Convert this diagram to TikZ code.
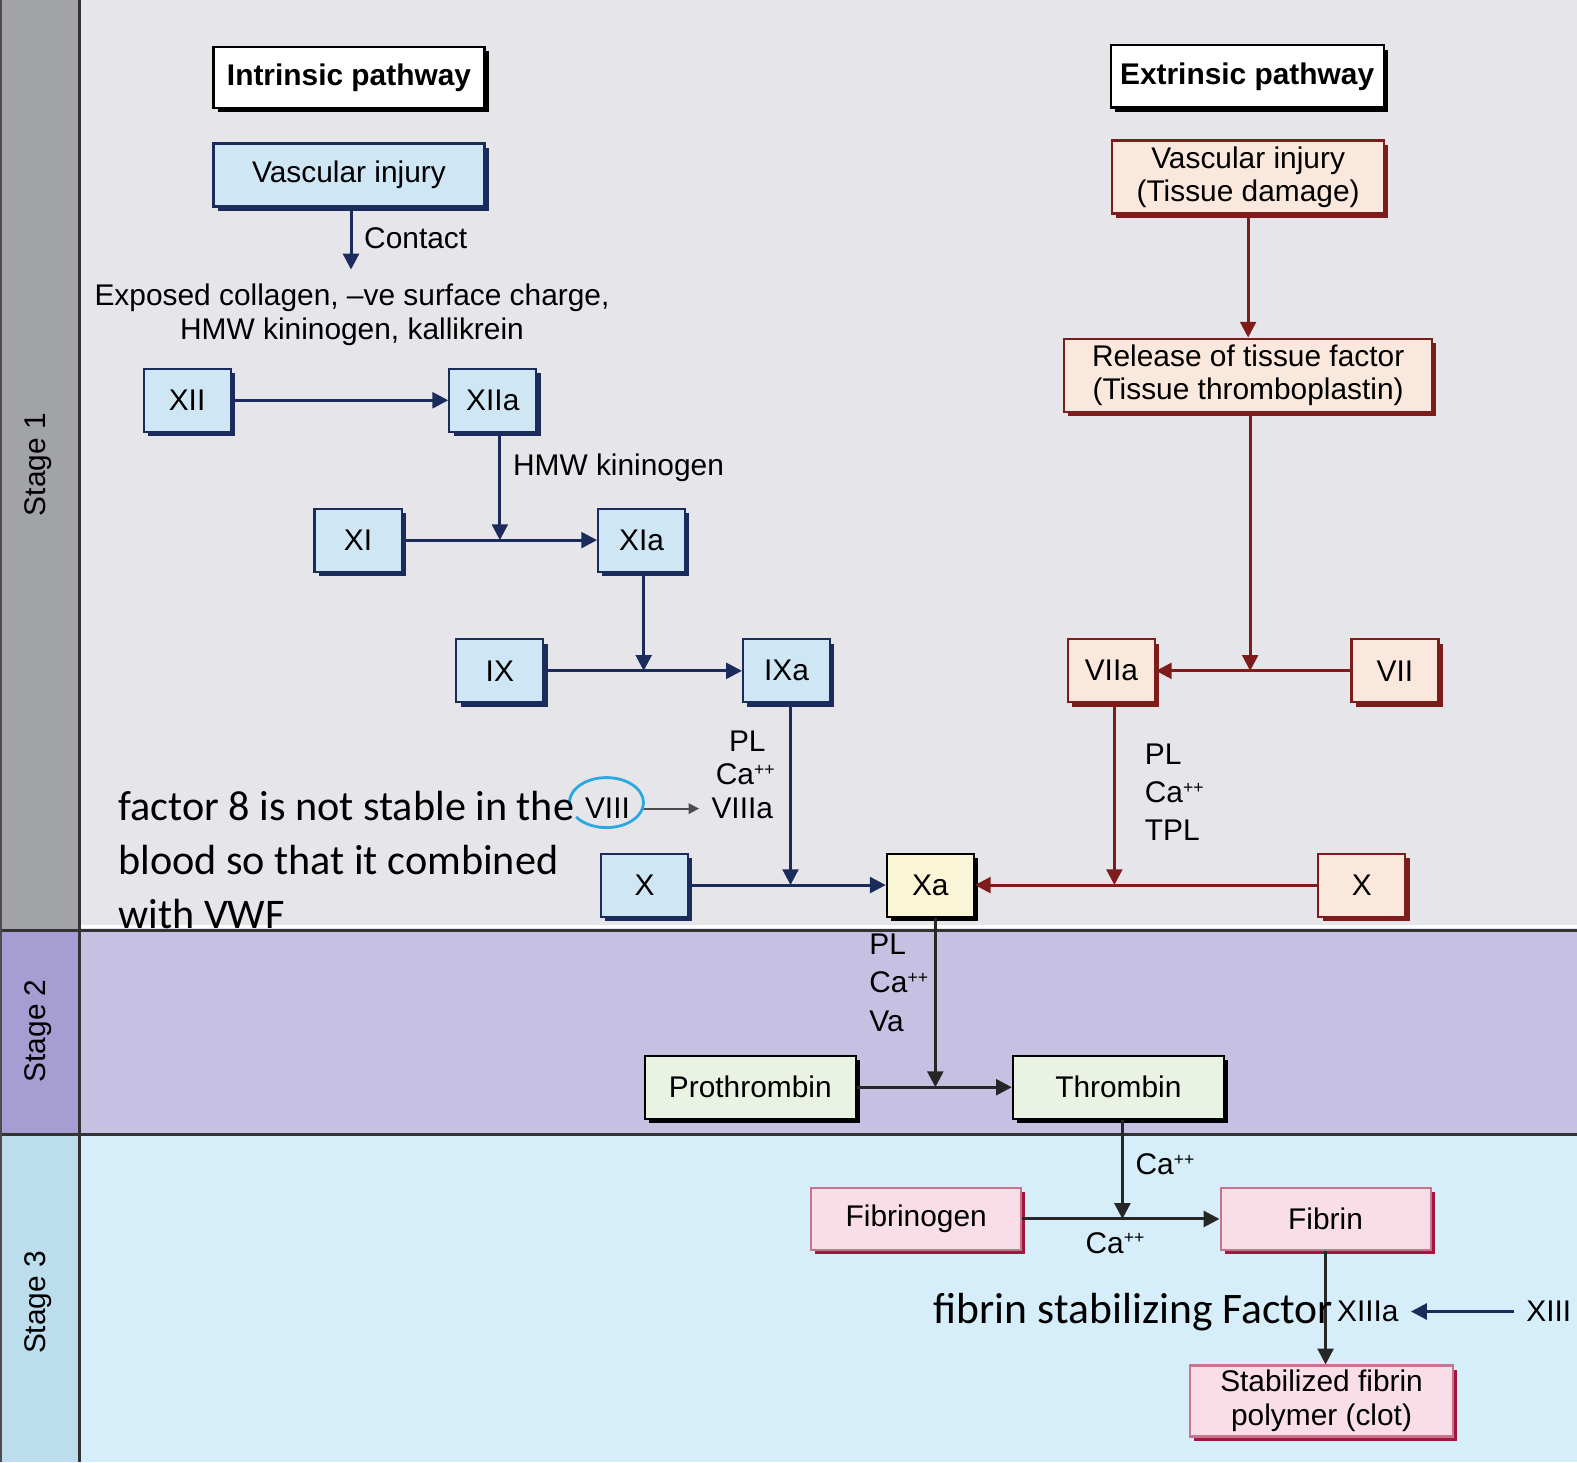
\documentclass[tikz,border=0pt]{standalone}
\usepackage{fontspec}
\setmainfont{Liberation Sans}
\newfontfamily\notefont{Carlito}
\usetikzlibrary{arrows.meta,shadows}

\definecolor{navyline}{HTML}{1B2B5B}
\definecolor{bluefill}{HTML}{CFE6F5}
\definecolor{redline}{HTML}{7E1B1B}
\definecolor{peachfill}{HTML}{FBE8DC}
\definecolor{yellowfill}{HTML}{FBF5D8}
\definecolor{greenfill}{HTML}{EAF2E4}
\definecolor{pinkfill}{HTML}{F9DDE7}
\definecolor{pinkline}{HTML}{A3173F}
\definecolor{stageone}{HTML}{E6E6EA}
\definecolor{stagetwo}{HTML}{C6C1E2}
\definecolor{stagethree}{HTML}{D6EEF9}
\definecolor{sideone}{HTML}{A1A3A7}
\definecolor{sidetwo}{HTML}{A69DD3}
\definecolor{sidethree}{HTML}{BBDDEC}
\definecolor{circleblue}{HTML}{2AA8E2}

\newcommand{\caplus}{Ca\raisebox{0.6ex}{\fontsize{5}{5}\selectfont ++}}

\tikzset{
  basebox/.style={draw, line width=0.6pt, inner sep=0pt, align=center},
  bluebox/.style={basebox, draw=navyline, fill=bluefill,
    drop shadow={shadow xshift=1.2pt, shadow yshift=-1.2pt, fill=navyline, opacity=1}},
  redbox/.style={basebox, draw=redline, fill=peachfill,
    drop shadow={shadow xshift=1.2pt, shadow yshift=-1.2pt, fill=redline, opacity=1}},
  blackbox/.style={basebox, draw=black, fill=#1,
    drop shadow={shadow xshift=1.2pt, shadow yshift=-1.2pt, fill=black, opacity=1}},
  pinkbox/.style={basebox, draw=pinkline!60, fill=pinkfill,
    drop shadow={shadow xshift=1.2pt, shadow yshift=-1.2pt, fill=pinkline, opacity=1}},
  small/.style={minimum width=0.87cm, minimum height=0.63cm},
  bluearrow/.style={->, draw=navyline, line width=0.85pt},
  redarrow/.style={->, draw=redline, line width=0.85pt},
  blackarrow/.style={->, draw=black!85, line width=0.85pt}
}

\begin{document}
\begin{tikzpicture}[x=0.010057cm, y=-0.010057cm, font=\fontsize{8.5}{10}\selectfont,
  >={Triangle[length=4.5pt,width=4.5pt]}]
  \useasboundingbox (0,0) rectangle (1568,1454);

  % stage bands
  \fill[stageone] (0,0) rectangle (1568,925);
  \fill[stagetwo] (0,925) rectangle (1568,1128);
  \fill[stagethree] (0,1128) rectangle (1568,1454);
  \fill[sideone] (0,0) rectangle (79,925);
  \fill[sidetwo] (0,925) rectangle (79,1128);
  \fill[sidethree] (0,1128) rectangle (79,1454);
  \draw[white, line width=1pt] (80,921) -- (1568,921);
  \draw[black!80, line width=0.85pt] (0,925) -- (1568,925);
  \draw[black!80, line width=0.85pt] (0,1128) -- (1568,1128);
  \draw[black!80, line width=0.85pt] (79,0) -- (79,1454);
  \draw[black!70, line width=0.6pt] (1,0) -- (1,1454);

  \node[rotate=90] (stage1) at (38,462) {Stage 1};
  \node[rotate=90] (stage2) at (38,1025) {Stage 2};
  \node[rotate=90] (stage3) at (38,1295) {Stage 3};

  % Intrinsic pathway
  \node[blackbox=white, minimum width=2.71cm, minimum height=0.61cm,
    font=\fontsize{8.5}{10}\selectfont\bfseries] (inpath) at (347,77) {Intrinsic pathway};
  \node[bluebox, minimum width=2.71cm, minimum height=0.63cm] (vinj) at (347,174) {Vascular injury};
  \coordinate (contact) at (349,268);
  \draw[bluearrow] (vinj.south -| contact) -- (contact) node[midway, right] {Contact};
  \node[align=center, font=\fontsize{8.5}{9.7}\selectfont] (expo) at (350,313)
    {Exposed collagen, --ve surface charge,\\HMW kininogen, kallikrein};

  \foreach \nm/\x/\y/\lbl in {xii/186/398/XII, xiia/490/398/XIIa, xi/356/537/XI,
    xia/638/537/XIa, ix/497/667/IX, ixa/782/667/IXa, xleft/641/880/X}
    \node[bluebox, small] (\nm) at (\x,\y) {\lbl};

  \draw[bluearrow] (xii) -- (xiia);
  \draw[bluearrow] (xi) -- (xia);
  \draw[bluearrow] (ix) -- (ixa);
  \coordinate (j1) at (497,537);
  \draw[bluearrow] (xiia.south -| j1) -- (j1) node[pos=0.33, right] {HMW kininogen};
  \coordinate (j2) at (640,667);
  \draw[bluearrow] (xia.south -| j2) -- (j2);
  \coordinate (j3) at (786,880);
  \draw[bluearrow] (ixa.south -| j3) -- (j3);

  \node (pl1) at (743,737) {PL};
  \node (ca1) at (741,770) {\caplus};
  \node (v8a) at (738,804) {VIIIa};
  \node (v8) at (604,804) {VIII};
  \draw[-{Triangle[length=3pt,width=3pt]}, line width=0.5pt, black!70] (v8) -- (v8a);
  \coordinate (vcirc) at (603,798);
  \draw[circleblue, line width=0.8pt] (vcirc) ++(215:0.37cm and 0.25cm)
    arc[start angle=215, end angle=555, x radius=0.37cm, y radius=0.25cm];

  % Extrinsic pathway
  \node[blackbox=white, minimum width=2.73cm, minimum height=0.62cm,
    font=\fontsize{8.5}{10}\selectfont\bfseries] (expath) at (1240,76) {Extrinsic pathway};
  \node[redbox, minimum width=2.72cm, minimum height=0.73cm, font=\fontsize{8.5}{9.4}\selectfont]
    (tinj) at (1241,176) {Vascular injury\\(Tissue damage)};
  \node[redbox, minimum width=3.68cm, minimum height=0.73cm, font=\fontsize{8.5}{9.4}\selectfont]
    (tf) at (1241,373) {Release of tissue factor\\(Tissue thromboplastin)};
  \draw[redarrow] (tinj) -- (tf);

  \foreach \nm/\x/\y/\lbl in {viia/1105/667/VIIa, vii/1387/667/VII, xright/1354/880/X}
    \node[redbox, small] (\nm) at (\x,\y) {\lbl};

  \coordinate (j4) at (1243,667);
  \draw[redarrow] (tf.south -| j4) -- (j4);
  \draw[redarrow] (vii) -- (viia);
  \coordinate (j5) at (1108,880);
  \draw[redarrow] (viia.south -| j5) -- (j5);
  \node[anchor=west, align=left, font=\fontsize{8.5}{10.8}\selectfont] (cofvii) at (1126,788)
    {PL\\\caplus\\TPL};

  % Common pathway
  \node[blackbox=yellowfill, small] (xa) at (925,880) {Xa};
  \draw[bluearrow] (xleft) -- (xa);
  \draw[redarrow] (xright) -- (xa);

  % Stage 2
  \node[blackbox=greenfill, minimum width=2.11cm, minimum height=0.63cm] (proth) at (746,1081) {Prothrombin};
  \node[blackbox=greenfill, minimum width=2.11cm, minimum height=0.63cm] (thromb) at (1112,1081) {Thrombin};
  \draw[blackarrow] (proth) -- (thromb);
  \coordinate (j6) at (930,1081);
  \draw[blackarrow] (xa.south -| j6) -- (j6);
  \node[anchor=west, align=left, font=\fontsize{8.5}{11}\selectfont] (cofxa) at (852,977)
    {PL\\\caplus\\Va};

  % Stage 3
  \node[pinkbox, minimum width=2.10cm, minimum height=0.62cm] (fgen) at (911,1212) {Fibrinogen};
  \node[pinkbox, minimum width=2.10cm, minimum height=0.62cm] (fib) at (1318,1212) {Fibrin};
  \coordinate (j7) at (1116,1212);
  \draw[blackarrow] (thromb.south -| j7) -- (j7) node[pos=0.45, right] {\caplus};
  \draw[blackarrow] (fgen) -- (fib) node[pos=0.47, below] {\caplus};
  \node[pinkbox, minimum width=2.63cm, minimum height=0.71cm, font=\fontsize{8.5}{9.6}\selectfont]
    (stab) at (1314,1393) {Stabilized fibrin\\polymer (clot)};
  \draw[blackarrow] (fib.south) -- (fib.south |- stab.north);
  \node (f13a) at (1360,1304) {XIIIa};
  \node (f13) at (1540,1304) {XIII};
  \draw[bluearrow] (f13) -- (f13a);

  % notes
  \node[font=\notefont\fontsize{12.4}{15}\selectfont] (fsf) at (1127,1305) {fibrin stabilizing Factor};
  \node[anchor=north west, align=left, inner sep=0pt, font=\notefont\fontsize{12}{15.4}\selectfont]
    (note8) at (117,786) {factor 8 is not stable in the\\blood so that it combined\\with VWF};
\end{tikzpicture}
\end{document}
